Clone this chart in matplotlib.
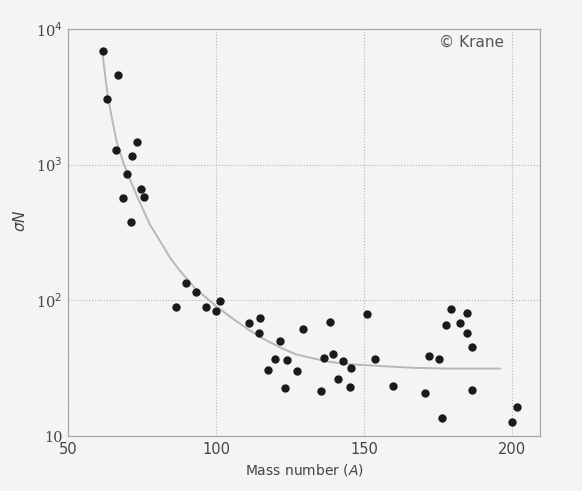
import matplotlib
matplotlib.use("Agg")
import matplotlib.pyplot as plt

# data: mass number A, sigma*N
masa = [61.7, 66.7, 63.1, 73.4, 66.2, 71.7, 69.8, 74.6, 68.7, 75.7, 71.2,
        89.8, 93.2, 86.4, 96.6, 101.4, 100.0, 111.1, 114.9, 114.4, 121.6,
        119.9, 124.1, 117.5, 127.5, 123.3, 129.5, 138.5, 136.6, 139.6, 142.9,
        145.5, 141.3, 135.4, 145.3, 151.1, 153.8, 159.9, 172.0, 175.2, 170.6,
        176.5, 179.4, 177.8, 182.3, 184.7, 184.8, 186.6, 186.6, 201.8, 200.0]
sigmaN = [6900, 4540, 3070, 1480, 1290, 1155, 849, 658, 571, 577, 379,
          135, 116, 89, 90, 99, 83, 68, 74, 57, 50,
          36.9, 36.3, 30.7, 30, 22.5, 61.7, 69.8, 37.3, 40.2, 35.7,
          31.9, 26.2, 21.5, 22.9, 78.7, 37.1, 23.5, 39.2, 37.1, 20.9,
          13.5, 86, 66, 68, 80, 57.4, 45.2, 21.7, 16.4, 12.7]

# curva de ajuste
curvaA = [61.5, 62.5, 63.5, 65.0, 66.4, 68.9, 71.0, 73.6, 77.7, 81.0, 84.5, 87.8,
          93.0, 100.2, 105.0, 110.4, 116.0, 121.6, 127.0, 132.9, 138.0, 144.2,
          155.4, 166.7, 178.0, 196.0]
curvaS = [7000, 4600, 3100, 2100, 1480, 1000, 770, 565, 360, 275, 205, 165,
          122, 90, 75, 62, 52, 45, 40, 37.3, 35.3, 33.9,
          32.8, 31.8, 31.4, 31.4]

fig = plt.figure(figsize=(5.82, 4.91), dpi=100)
fig.patch.set_facecolor("#f4f4f2")
ax = fig.add_axes([0.117, 0.112, 0.811, 0.829])
ax.set_facecolor("#f4f4f2")

ax.plot(curvaA, curvaS, color="#b8b8b8", lw=1.4, zorder=2)
ax.plot(masa, sigmaN, "o", color="#1a1a1a", ms=5, zorder=3)

ax.set_yscale("log")
ax.set_xlim(50, 209.5)
ax.set_ylim(10, 1e4)
ax.set_xticks([50, 100, 150, 200])
ax.set_xticklabels(["50", "100", "150", "200"], fontsize=10.5, color="#444444")
ax.set_yticks([10, 100, 1000, 10000])
ax.set_yticklabels(["10", "10$^2$", "10$^3$", "10$^4$"], fontsize=10.5,
                   color="#444444", family="DejaVu Serif")
ax.minorticks_off()
ax.tick_params(length=0, pad=4)
ax.grid(True, color="#b5b5b5", ls=":", lw=0.8)
for s in ax.spines.values():
    s.set_color("#a8a8a8")
    s.set_linewidth(0.9)

ax.set_xlabel("Mass number ($\\mathit{A}$)", fontsize=10, color="#444444", labelpad=4)
ax.set_ylabel("$\\sigma N$", fontsize=11, color="#444444")
ax.yaxis.set_label_coords(-0.085, 0.53)

fig.text(0.755, 0.905, "\u00a9 Krane", fontsize=11, color="#555555")

plt.savefig("out.png", dpi=100, facecolor=fig.get_facecolor())
